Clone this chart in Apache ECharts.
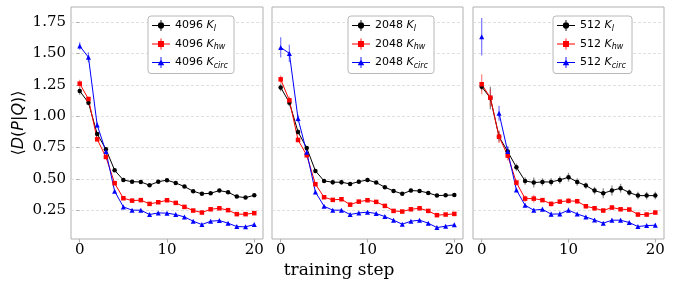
<!DOCTYPE html>
<html>
<head>
<meta charset="utf-8">
<script src="https://cdn.jsdelivr.net/npm/echarts@6/dist/echarts.min.js"></script>
<style>
  html, body { margin: 0; padding: 0; background: #fff; }
  #chart { width: 678px; height: 282px; }
</style>
</head>
<body>
<div id="chart"></div>
<script>
// training steps (x) and tick values
const steps = [0, 1, 2, 3, 4, 5, 6, 7, 8, 9, 10, 11, 12, 13, 14, 15, 16, 17, 18, 19, 20]
const xTicks = [0, 10, 20]
const yTicks = [0.25, 0.5, 0.75, 1.0, 1.25, 1.5, 1.75]

// 4096
const k4096_l = [1.20, 1.107, 0.858, 0.736, 0.568, 0.49, 0.477, 0.475, 0.449, 0.477, 0.489, 0.467, 0.438, 0.401, 0.380, 0.385, 0.406, 0.393, 0.358, 0.35, 0.369]
const k4096_hw = [1.259, 1.136, 0.815, 0.674, 0.465, 0.345, 0.326, 0.33, 0.30, 0.313, 0.329, 0.308, 0.276, 0.247, 0.231, 0.257, 0.265, 0.25, 0.218, 0.218, 0.226]
const k4096_circ = [1.559, 1.469, 0.929, 0.717, 0.401, 0.276, 0.25, 0.25, 0.215, 0.228, 0.226, 0.215, 0.196, 0.162, 0.135, 0.162, 0.167, 0.146, 0.119, 0.117, 0.135]
const e4096_l = [0.03, 0.02, 0.015, 0.01, 0.01, 0.01, 0.01, 0.01, 0.01, 0.01, 0.01, 0.01, 0.01, 0.01, 0.01, 0.01, 0.01, 0.01, 0.01, 0.01, 0.01]
const e4096_hw = [0.03, 0.02, 0.012, 0.01, 0.01, 0.01, 0.01, 0.01, 0.01, 0.01, 0.01, 0.01, 0.01, 0.01, 0.01, 0.01, 0.01, 0.01, 0.01, 0.01, 0.01]
const e4096_circ = [0.03, 0.04, 0.02, 0.01, 0.01, 0.01, 0.01, 0.01, 0.01, 0.01, 0.01, 0.01, 0.01, 0.01, 0.01, 0.01, 0.01, 0.01, 0.01, 0.01, 0.01]

// 2048
const k2048_l = [1.229, 1.107, 0.874, 0.746, 0.563, 0.483, 0.473, 0.473, 0.459, 0.477, 0.491, 0.470, 0.433, 0.403, 0.380, 0.406, 0.403, 0.387, 0.366, 0.369, 0.371]
const k2048_hw = [1.293, 1.126, 0.810, 0.688, 0.457, 0.353, 0.332, 0.337, 0.294, 0.318, 0.329, 0.316, 0.284, 0.244, 0.239, 0.257, 0.265, 0.244, 0.210, 0.215, 0.220]
const k2048_circ = [1.548, 1.50, 0.980, 0.712, 0.395, 0.281, 0.25, 0.25, 0.215, 0.228, 0.234, 0.223, 0.199, 0.17, 0.138, 0.162, 0.170, 0.146, 0.111, 0.122, 0.133]
const e2048_l = [0.03, 0.03, 0.02, 0.015, 0.015, 0.01, 0.02, 0.02, 0.01, 0.01, 0.01, 0.01, 0.01, 0.01, 0.01, 0.015, 0.01, 0.01, 0.01, 0.01, 0.01]
const e2048_hw = [0.03, 0.03, 0.02, 0.02, 0.01, 0.01, 0.01, 0.01, 0.01, 0.01, 0.01, 0.01, 0.01, 0.01, 0.01, 0.01, 0.01, 0.01, 0.01, 0.01, 0.01]
const e2048_circ = [0.08, 0.07, 0.03, 0.02, 0.01, 0.01, 0.01, 0.01, 0.01, 0.01, 0.01, 0.01, 0.01, 0.01, 0.01, 0.01, 0.01, 0.01, 0.01, 0.01, 0.01]

// 512
const k512_l = [1.234, 1.144, 0.836, 0.717, 0.592, 0.483, 0.470, 0.475, 0.475, 0.491, 0.513, 0.475, 0.446, 0.406, 0.385, 0.406, 0.425, 0.390, 0.366, 0.366, 0.366]
const k512_hw = [1.254, 1.147, 0.836, 0.685, 0.470, 0.342, 0.342, 0.33, 0.30, 0.318, 0.324, 0.321, 0.281, 0.265, 0.247, 0.271, 0.257, 0.255, 0.215, 0.215, 0.231]
const k512_circ = [1.633, null, 1.023, 0.717, 0.411, 0.289, 0.25, 0.257, 0.218, 0.220, 0.25, 0.220, 0.196, 0.172, 0.146, 0.170, 0.170, 0.151, 0.119, 0.127, 0.130]
const e512_l = [0.03, 0.09, 0.04, 0.04, 0.03, 0.03, 0.04, 0.03, 0.03, 0.03, 0.035, 0.03, 0.025, 0.03, 0.04, 0.04, 0.035, 0.025, 0.03, 0.03, 0.03]
const e512_hw = [0.08, 0.07, 0.05, 0.04, 0.025, 0.025, 0.03, 0.015, 0.02, 0.015, 0.02, 0.02, 0.015, 0.015, 0.015, 0.015, 0.015, 0.015, 0.015, 0.02, 0.015]
const e512_circ = [0.15, 0, 0.06, 0.04, 0.015, 0.015, 0.015, 0.015, 0.02, 0.02, 0.02, 0.01, 0.01, 0.01, 0.01, 0.015, 0.015, 0.01, 0.01, 0.01, 0.015]

const panels = [
  { size: '4096', left: 71, width: 192, legendLeft: 148, sets: [[k4096_l, e4096_l], [k4096_hw, e4096_hw], [k4096_circ, e4096_circ]] },
  { size: '2048', left: 272, width: 191, legendLeft: 348, sets: [[k2048_l, e2048_l], [k2048_hw, e2048_hw], [k2048_circ, e2048_circ]] },
  { size: '512', left: 473, width: 191, legendLeft: 553, sets: [[k512_l, e512_l], [k512_hw, e512_hw], [k512_circ, e512_circ]] }
]

const kinds = [
  { sub: 'l', color: '#000000', bar: 'rgba(0,0,0,0.45)', symbol: 'circle',
    icon: 'path://M0,5.5L20,5.5L20,6.5L0,6.5Z M9.5,0L10.5,0L10.5,12L9.5,12Z M13.5,6A3.5,3.5 0 1,1 6.5,6A3.5,3.5 0 1,1 13.5,6Z' },
  { sub: 'hw', color: '#ff0000', bar: 'rgba(255,0,0,0.45)', symbol: 'rect',
    icon: 'path://M0,5.5L20,5.5L20,6.5L0,6.5Z M9.5,0L10.5,0L10.5,12L9.5,12Z M6.7,2.7L13.3,2.7L13.3,9.3L6.7,9.3Z' },
  { sub: 'circ', color: '#0000ff', bar: 'rgba(0,0,255,0.5)', symbol: 'triangle',
    icon: 'path://M0,5.5L20,5.5L20,6.5L0,6.5Z M9.5,0L10.5,0L10.5,12L9.5,12Z M10,2.3L13.6,9L6.4,9Z' }
]

const serif = 'DejaVu Serif'
const sans = 'DejaVu Sans'

let grid = [], xAxis = [], yAxis = [], series = [], legend = [], labelMap = {}

panels.forEach((p, i) => {
  grid.push({ left: p.left, top: 7, width: p.width, height: 232, show: true, borderColor: '#b0b0b0', borderWidth: 1 })
  xAxis.push({
    gridIndex: i, type: 'value', min: -1, max: 21,
    axisLine: { show: false },
    axisTick: { show: true, customValues: xTicks, length: 3.5, lineStyle: { color: '#b0b0b0' } },
    axisLabel: { customValues: xTicks, color: '#000', fontFamily: serif, fontSize: 15, margin: 4 },
    splitLine: { show: false }
  })
  yAxis.push({
    gridIndex: i, type: 'value', min: 0.02, max: 1.87,
    name: i === 0 ? '{n|⟨}{i|D}{n|(}{i|P}{n||}{i|Q}{n|)⟩}' : '',
    nameLocation: 'middle', nameGap: 44, nameRotate: 90,
    nameTextStyle: { rich: { n: { fontFamily: sans, fontSize: 16, color: '#000' }, i: { fontFamily: sans, fontSize: 16, fontStyle: 'italic', color: '#000' } } },
    axisLine: { show: false },
    axisTick: { show: i === 0, customValues: yTicks, length: 3.5, lineStyle: { color: '#b0b0b0' } },
    axisLabel: { show: i === 0, customValues: yTicks, color: '#000', fontFamily: serif, fontSize: 15, margin: 5,
      formatter: v => v.toFixed(2) },
    splitLine: { show: true, lineStyle: { color: '#d8d8d8', type: [3, 2], width: 0.8 } }
  })
  const names = []
  kinds.forEach((k, j) => {
    const [vals, errs] = p.sets[j]
    const name = p.size + ' K' + k.sub
    names.push({ name: name, icon: k.icon })
    labelMap[name] = '{n|' + p.size + ' }{k|K}{s|' + k.sub + '}'
    series.push({
      type: 'custom', xAxisIndex: i, yAxisIndex: i, z: 2, silent: true,
      data: steps.map((s, m) => [s, vals[m], errs[m]]).filter(d => d[1] != null),
      encode: { x: 0, y: 1 },
      renderItem: (params, api) => {
        const x = api.value(0), y = api.value(1), e = api.value(2)
        const a = api.coord([x, y - e]), b = api.coord([x, y + e])
        return { type: 'line', shape: { x1: a[0], y1: a[1], x2: b[0], y2: b[1] }, style: { stroke: k.bar, lineWidth: 1.3 } }
      }
    })
    series.push({
      name: name, type: 'line', xAxisIndex: i, yAxisIndex: i, z: 3,
      data: steps.map((s, m) => [s, vals[m]]),
      connectNulls: false,
      symbol: k.symbol, symbolSize: k.symbol === 'triangle' ? 5 : 4.5,
      showAllSymbol: true,
      color: k.color,
      itemStyle: { color: k.color },
      lineStyle: { color: k.color, width: 1 }
    })
  })
  legend.push({
    data: names, left: p.legendLeft, top: 16, orient: 'vertical',
    padding: [4, 6, 4, 4], itemGap: 6, itemWidth: 18, itemHeight: 11,
    backgroundColor: '#fff', borderColor: '#b8b8b8', borderWidth: 1, borderRadius: 3,
    formatter: n => labelMap[n],
    textStyle: {
      color: '#000', fontFamily: sans, fontSize: 11,
      rich: {
        n: { fontFamily: sans, fontSize: 11, color: '#000' },
        k: { fontFamily: sans, fontSize: 11, fontStyle: 'italic', color: '#000' },
        s: { fontFamily: sans, fontSize: 8, fontStyle: 'italic', color: '#000', padding: [6, 0, 0, 0] }
      }
    }
  })
})

let myChart = echarts.init(document.getElementById('chart'), null, { renderer: 'canvas' })
let option = {
  animation: false,
  backgroundColor: '#fff',
  grid: grid,
  xAxis: xAxis,
  yAxis: yAxis,
  legend: legend,
  series: series,
  graphic: [{
    type: 'text', left: 'center', top: 262,
    style: { text: 'training step', fontFamily: serif, fontSize: 17, fill: '#000' }
  }]
}
myChart.setOption(option)
</script>
</body>
</html>
